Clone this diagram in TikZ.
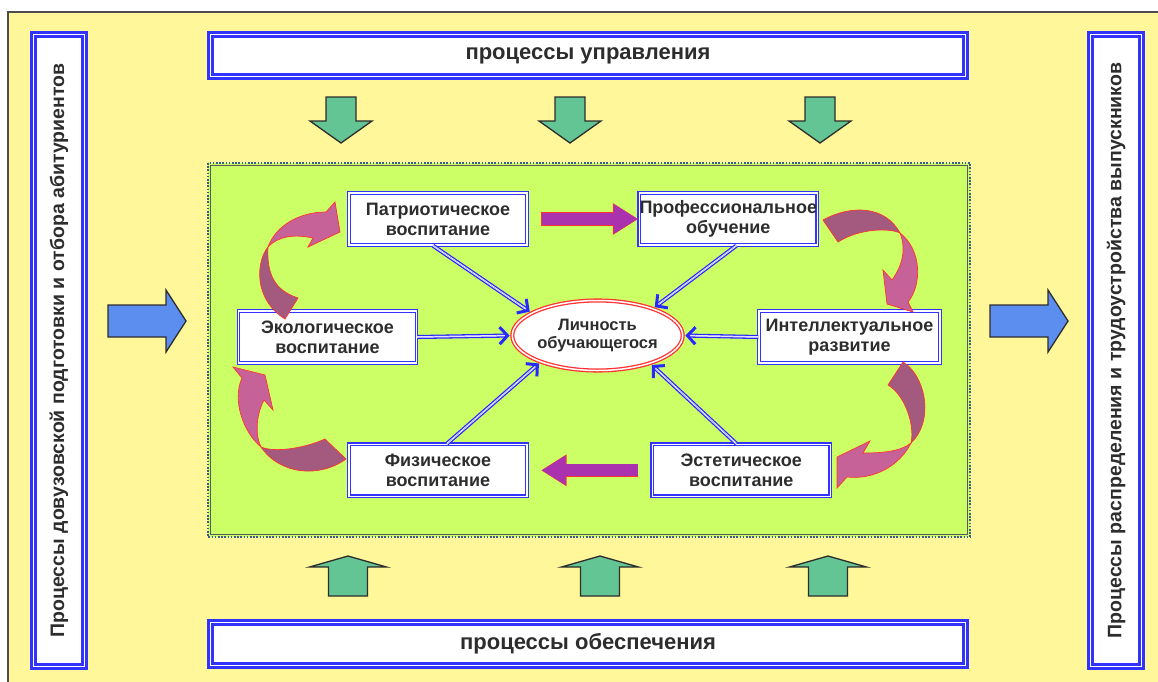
\documentclass[tikz,border=0pt]{standalone}
\usepackage{fontspec}
\setmainfont{Liberation Sans}
\usepackage{xcolor}
\usetikzlibrary{shapes.geometric,arrows.meta,positioning}
\definecolor{bgyellow}{RGB}{255,247,153}
\definecolor{panelgreen}{RGB}{204,255,102}
\definecolor{frameblue}{RGB}{51,51,255}
\definecolor{linkblue}{RGB}{40,40,255}
\definecolor{textgray}{RGB}{45,45,45}
\definecolor{dotblue}{RGB}{58,90,150}
\definecolor{arrowgreen}{RGB}{99,197,148}
\definecolor{arrowblue}{RGB}{92,142,240}
\definecolor{violetarrow}{RGB}{170,50,175}
\definecolor{pinklight}{RGB}{198,98,152}
\definecolor{pinkdark}{RGB}{163,90,126}
\definecolor{edgered}{RGB}{255,50,50}

\begin{document}
\begin{tikzpicture}[x=1pt, y=-1pt,
  box/.style={draw=frameblue, line width=1.3pt, double=white, double distance=1.3pt, fill=white, text=textgray,
    font=\bfseries\fontsize{18}{20}\selectfont, align=center, minimum width=178pt, minimum height=52pt, inner sep=0pt},
  sidebox/.style={draw=frameblue, line width=2.4pt, double=white, double distance=1.8pt, fill=white, text=textgray, inner sep=0pt},
  link/.style={draw=linkblue, line width=1.3pt, double=white, double distance=1.5pt, shorten >=6pt},
  linktip/.style={draw=linkblue, line width=0.01pt, shorten >=2pt,
    -{Straight Barb[length=8pt, width=17pt, line width=3pt]}},
  garrow/.style={fill=arrowgreen, draw=textgray, line width=1.3pt},
  barrow/.style={fill=arrowblue, draw=textgray, line width=1.3pt},
  curvl/.style={fill=pinklight, draw=edgered, line width=0.7pt},
  curvd/.style={fill=pinkdark, draw=edgered, line width=0.7pt}]
  \useasboundingbox (0,0) rectangle (1158,681);
  \fill[white] (0,0) rectangle (1158,681);
  \fill[bgyellow] (8,12) rectangle (1170,690);
  \draw[gray!60!black, line width=1.5pt] (8,690) -- (8,12) -- (1170,12);

  % central field
  \fill[panelgreen] (208,163) rectangle (970,537);
  \draw[gray!70!black, line width=0.7pt] (210.5,165.5) rectangle (967.5,534.5);
  \draw[dotblue, line width=2.2pt, dash pattern=on 1.6pt off 1.6pt] (208,163) rectangle (970,537);

  % outer processes
  \node[sidebox, minimum width=755pt, minimum height=42pt, font=\bfseries\fontsize{22}{24}\selectfont] (upr) at (588,55.5) {процессы управления};
  \node[sidebox, minimum width=755pt, minimum height=43pt, font=\bfseries\fontsize{22}{24}\selectfont] (obesp) at (588,644) {процессы обеспечения};
  \node[sidebox, rotate=90, minimum width=632pt, minimum height=51pt, font=\bfseries\fontsize{19.5}{22}\selectfont] (dovuz) at (59,350.5) {Процессы довузовской подготовки и отбора абитуриентов};
  \node[sidebox, rotate=90, minimum width=632pt, minimum height=51pt, font=\bfseries\fontsize{19.5}{22}\selectfont] (vypusk) at (1116,350.5) {Процессы распределения и трудоустройства выпускников};

  \foreach \x in {341,570,820}
    \draw[garrow] (\x-15,97) -- (\x+15,97) -- (\x+15,121) -- (\x+31,121) -- (\x,143) -- (\x-31,121) -- (\x-15,121) -- cycle;
  \foreach \x in {348,600,828}
    \draw[garrow] (\x-19.5,596) -- (\x+19.5,596) -- (\x+19.5,567) -- (\x+38.5,567) -- (\x,556) -- (\x-38.5,567) -- (\x-19.5,567) -- cycle;
  \foreach \x in {108,990}
    \draw[barrow] (\x,305) -- (\x+58,305) -- (\x+58,290) -- (\x+78,321) -- (\x+58,352) -- (\x+58,337) -- (\x,337) -- cycle;

  % directions of upbringing
  \node[box] (patr) at (438,219) {Патриотическое\\воспитание};
  \node[box, right=111pt of patr] (prof) {Профессиональное\\обучение};
  \node[box] (ekol) at (327.5,337) {Экологическое\\воспитание};
  \node[box, minimum width=181pt] (intel) at (849.5,337) {Интеллектуальное\\развитие};
  \node[box, below=198pt of patr] (fiz) {Физическое\\воспитание};
  \node[box, right=124pt of fiz] (est) {Эстетическое\\воспитание};
  \node[ellipse, draw=edgered, line width=1.3pt, double=white, double distance=1.5pt, fill=white, minimum width=166pt, minimum height=70pt,
    inner sep=0pt, text=textgray, font=\bfseries\fontsize{16.5}{17.5}\selectfont, align=center] (lich) at (597.5,335.5) {Личность\\обучающегося};

  \coordinate (patr-out) at ([xshift=-5pt]patr.south);
  \coordinate (prof-out) at ([xshift=8pt]prof.south);
  \coordinate (fiz-out) at ([xshift=9pt]fiz.north);
  \coordinate (est-out) at ([xshift=-5pt]est.north);
  \foreach \s/\t in {patr-out/lich.161, prof-out/lich.26, ekol.east/lich.west,
      intel.west/lich.east, fiz-out/lich.205, est-out/lich.332} {
    \draw[link] (\s) -- (\t);
    \draw[linktip] (\s) -- (\t);
  }

  \draw[edgered, line width=13.2pt, shorten <=13.4pt, shorten >=0.4pt, -{Triangle[length=25.5pt, width=30pt]}] (patr.east) -- (prof.west);
  \draw[violetarrow, line width=12pt, shorten <=14pt, shorten >=1pt, -{Triangle[length=24pt, width=28pt]}] (patr.east) -- (prof.west);
  \draw[edgered, line width=13.2pt, shorten <=13.4pt, shorten >=13.4pt, -{Triangle[length=25.5pt, width=30pt]}] (est.west) -- (fiz.east);
  \draw[violetarrow, line width=12pt, shorten <=14pt, shorten >=14pt, -{Triangle[length=24pt, width=28pt]}] (est.west) -- (fiz.east);

  % curved arrows round the ring
  \draw[curvd] (298,298) .. controls (280,292) and (266,280) .. (268,247) .. controls (257,260) and (252,298) .. (285,319) -- cycle;
  \draw[curvl] (268,247) .. controls (276,225) and (300,212) .. (326,212) -- (335,202) -- (340,232) -- (308,247) -- (313,238) .. controls (295,234) and (278,236) .. (268,247) -- cycle;
  \draw[curvd] (823,220) .. controls (850,205) and (885,205) .. (900,233) .. controls (890,228) and (860,228) .. (838,242) -- cycle;
  \draw[curvl] (900,233) .. controls (922,250) and (922,285) .. (908,302) -- (913,312) -- (887,304) -- (883,270) -- (892,280) .. controls (905,262) and (905,245) .. (900,233) -- cycle;
  \draw[curvd] (903,362) .. controls (925,375) and (935,420) .. (911,443) .. controls (915,425) and (905,395) .. (888,385) -- cycle;
  \draw[curvl] (911,443) .. controls (900,465) and (875,480) .. (847,477) -- (837,488) -- (837,457) -- (870,441) -- (863,453) .. controls (880,453) and (900,452) .. (911,443) -- cycle;
  \draw[curvd] (261,447) .. controls (275,453) and (305,448) .. (325,439) -- (346,459) .. controls (320,478) and (280,475) .. (261,447) -- cycle;
  \draw[curvl] (261,447) .. controls (243,432) and (232,400) .. (242,378) -- (233,367) -- (265,375) -- (273,410) -- (264,400) .. controls (256,415) and (255,435) .. (261,447) -- cycle;
\end{tikzpicture}
\end{document}
